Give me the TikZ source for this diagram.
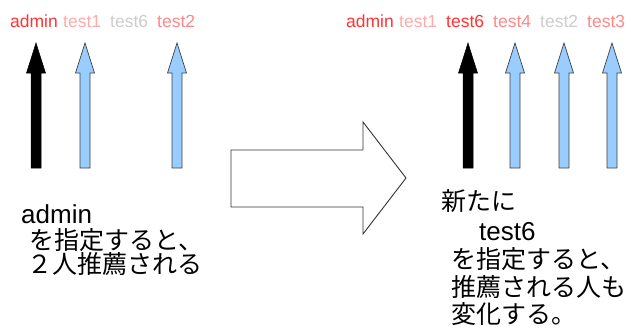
\documentclass[tikz,border=0pt]{standalone}
\usepackage{fontspec}
\setmainfont{Liberation Sans}
\newfontfamily\cjk{Noto Sans CJK JP}
\definecolor{lblred}{HTML}{FF3333}
\definecolor{lblpink}{HTML}{FFAAAA}
\definecolor{lblmid}{HTML}{FF8888}
\definecolor{lblgray}{HTML}{CCCCCC}
\definecolor{arrblue}{HTML}{99CCFF}
\tikzset{
  toplabel/.style={anchor=base west, inner sep=0pt, font=\fontsize{17.5}{20}\selectfont},
  bodylatin/.style={anchor=base west, inner sep=0pt, font=\fontsize{26}{28}\selectfont},
  bodycjk/.style={anchor=base west, inner sep=0pt, font=\cjk\fontsize{25}{28}\selectfont},
  blackarrow/.style={fill=black, draw=black, line width=0.5pt},
  bluearrow/.style={fill=arrblue, draw=black!75, line width=0.7pt},
  bigarrow/.style={fill=white, draw=black!80, line width=0.9pt}
}
\newcommand{\uparr}[2]{%
  \draw[#2] (#1-5,168) -- (#1-5,73) -- (#1-9.5,73) -- (#1,43) -- (#1+9.5,73) -- (#1+5,73) -- (#1+5,168) -- cycle;}
\begin{document}
\begin{tikzpicture}[x=1pt,y=-1pt]
\useasboundingbox (0,0) rectangle (631,329);
% top labels left
\node[toplabel, text=lblred] (la) at (10,28) {admin};
\node[toplabel, text=lblpink] (lb) at (63,28) {test1};
\node[toplabel, text=lblgray] (lc) at (110,28) {test6};
\node[toplabel, text=lblmid] (ld) at (157,28) {test2};
% top labels right
\node[toplabel, text=lblred] (ra) at (346,28) {admin};
\node[toplabel, text=lblpink] (rb) at (399,28) {test1};
\node[toplabel, text=lblred] (rc) at (446,28) {test6};
\node[toplabel, text=lblmid] (rd) at (493,28) {test4};
\node[toplabel, text=lblgray] (re) at (540,28) {test2};
\node[toplabel, text=lblmid] (rf) at (587,28) {test3};
% arrows
\uparr{36}{blackarrow}
\uparr{85}{bluearrow}
\uparr{177}{bluearrow}
\uparr{468}{blackarrow}
\uparr{515}{bluearrow}
\uparr{564}{bluearrow}
\uparr{612}{bluearrow}
% big arrow
\draw[bigarrow] (231,150) -- (363,150) -- (363,122) -- (406,178) -- (363,234) -- (363,207) -- (231,207) -- cycle;
% left text
\node[bodylatin] (t1) at (21,223) {admin};
\node[bodycjk] (t2) at (29,249) {を指定すると、};
\node[bodycjk] (t3) at (27,273) {２人推薦される};
% right text
\node[bodycjk] (u1) at (441,210) {新たに};
\node[bodylatin] (u2) at (479,240) {test6};
\node[bodycjk] (u3) at (451,268) {を指定すると、};
\node[bodycjk] (u4) at (451,296) {推薦される人も};
\node[bodycjk] (u5) at (451,323) {変化する。};
\end{tikzpicture}
\end{document}
